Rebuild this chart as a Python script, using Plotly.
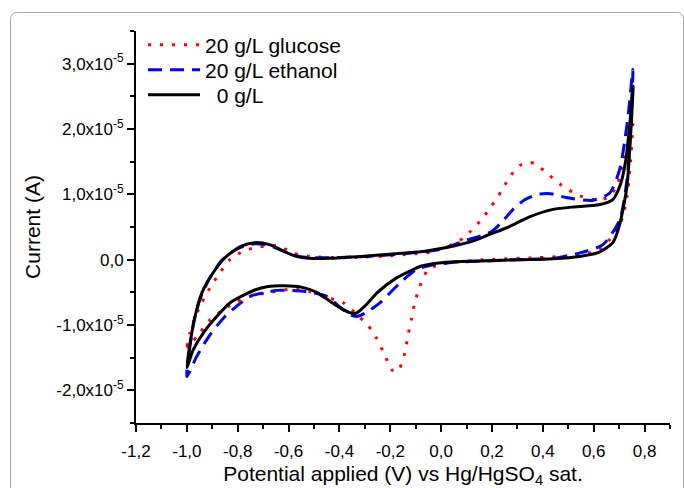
import numpy as np
import plotly.graph_objects as go

# Potential (V) and current (in units of 1e-5 A), one closed CV loop per series
v_glucose = [-1.0, -0.988, -0.968, -0.942, -0.909, -0.870, -0.831, -0.778, -0.713, -0.641, -0.582, -0.516,
             -0.385, -0.30, -0.20, -0.10, -0.058, 0.0, 0.066, 0.112, 0.158, 0.198, 0.237, 0.270, 0.309,
             0.345, 0.368, 0.420, 0.473, 0.532, 0.597, 0.656, 0.689, 0.715, 0.734, 0.748, 0.754,
             0.745, 0.73, 0.705, 0.663, 0.610, 0.507, 0.374, 0.178, 0.073, 0.008, -0.051, -0.084, -0.104,
             -0.117, -0.130, -0.143, -0.163, -0.18, -0.195, -0.222, -0.254, -0.287, -0.326, -0.385, -0.438,
             -0.516, -0.582, -0.673, -0.739, -0.804, -0.857, -0.909, -0.955, -1.0]
i_glucose = [-1.33, -1.12, -0.89, -0.66, -0.43, -0.20, 0.0, 0.13, 0.20, 0.21, 0.10, 0.05,
             0.03, 0.04, 0.06, 0.09, 0.10, 0.17, 0.27, 0.42, 0.61, 0.82, 1.05, 1.27, 1.44,
             1.49, 1.47, 1.31, 1.14, 1.00, 0.92, 0.95, 1.12, 1.43, 1.79, 2.10, 2.18,
             1.50, 0.95, 0.55, 0.31, 0.13, 0.06, 0.03, 0.0, -0.03, -0.06, -0.15, -0.41, -0.66,
             -0.92, -1.15, -1.43, -1.66, -1.72, -1.68, -1.46, -1.20, -1.01, -0.86, -0.66, -0.59,
             -0.49, -0.45, -0.50, -0.55, -0.64, -0.77, -0.92, -1.15, -1.35]

v_ethanol = [-1.0, -0.99, -0.975, -0.95, -0.91, -0.86, -0.80, -0.74, -0.68, -0.62, -0.57, -0.52, -0.44,
             -0.35, -0.25, -0.15, -0.05, 0.0, 0.086, 0.198, 0.24, 0.283, 0.33, 0.381, 0.43, 0.492, 0.597,
             0.663, 0.702, 0.721, 0.738, 0.754,
             0.745, 0.73, 0.702, 0.636, 0.532, 0.44, 0.30, 0.18, 0.05, -0.045, -0.097, -0.163, -0.241,
             -0.30, -0.333, -0.36, -0.40, -0.451, -0.529, -0.60, -0.647, -0.70, -0.752, -0.80, -0.850,
             -0.909, -0.961, -1.0]
i_ethanol = [-1.79, -1.40, -1.00, -0.62, -0.28, 0.0, 0.17, 0.24, 0.22, 0.13, 0.06, 0.03, 0.03,
             0.04, 0.06, 0.09, 0.13, 0.16, 0.28, 0.43, 0.58, 0.77, 0.92, 1.00, 1.01, 0.95, 0.91,
             1.02, 1.38, 1.79, 2.30, 2.91,
             2.00, 1.20, 0.61, 0.23, 0.09, 0.02, 0.0, -0.02, -0.04, -0.09, -0.15, -0.36, -0.66,
             -0.82, -0.87, -0.84, -0.72, -0.56, -0.49, -0.47, -0.47, -0.51, -0.56, -0.70, -0.87,
             -1.15, -1.48, -1.79]

v_blank = [-1.0, -0.985, -0.965, -0.94, -0.90, -0.85, -0.79, -0.735, -0.675, -0.62, -0.57, -0.52, -0.44,
           -0.35, -0.28, -0.18, -0.08, 0.0, 0.05, 0.12, 0.18, 0.27, 0.35, 0.44, 0.53, 0.62, 0.675, 0.705,
           0.725, 0.74, 0.755,
           0.745, 0.73, 0.70, 0.675, 0.62, 0.545, 0.44, 0.31, 0.18, 0.05, -0.01, -0.08, -0.12, -0.18,
           -0.25, -0.30, -0.335, -0.36, -0.40, -0.44, -0.49, -0.55, -0.62, -0.68, -0.73, -0.78, -0.83,
           -0.88, -0.935, -0.975, -1.0]
i_blank = [-1.65, -1.22, -0.82, -0.50, -0.22, 0.03, 0.20, 0.26, 0.23, 0.13, 0.05, 0.02, 0.02,
           0.04, 0.06, 0.09, 0.12, 0.17, 0.21, 0.28, 0.37, 0.51, 0.66, 0.77, 0.81, 0.84, 0.92, 1.15,
           1.50, 2.00, 2.66,
           1.90, 1.10, 0.51, 0.26, 0.11, 0.05, 0.015, 0.0, -0.015, -0.03, -0.05, -0.10, -0.17, -0.29,
           -0.50, -0.71, -0.82, -0.81, -0.73, -0.63, -0.50, -0.42, -0.40, -0.41, -0.46, -0.55, -0.66,
           -0.86, -1.12, -1.38, -1.65]

scale = 1e-5
y_tickvals = [-2e-5, -1e-5, 0.0, 1e-5, 2e-5, 3e-5]
y_ticktext = ["-2,0x10<sup>-5</sup>", "-1,0x10<sup>-5</sup>", "0,0", "1,0x10<sup>-5</sup>",
              "2,0x10<sup>-5</sup>", "3,0x10<sup>-5</sup>"]
x_tickvals = [-1.2, -1.0, -0.8, -0.6, -0.4, -0.2, 0.0, 0.2, 0.4, 0.6, 0.8]
x_ticktext = ["-1,2", "-1,0", "-0,8", "-0,6", "-0,4", "-0,2", "0,0", "0,2", "0,4", "0,6", "0,8"]

FONT = "Arial, 'Liberation Sans', sans-serif"

# plot-area pixel box
L, R, T, B = 136, 670, 31, 423
W, H = R - L, B - T
def px(x):
    return (x - L) / W
def py(y):
    return (B - y) / H

fig = go.Figure()
fig.add_trace(go.Scatter(x=v_glucose, y=np.array(i_glucose) * scale, mode="lines",
                         name="20 g/L glucose", legend="legend",
                         line=dict(color="#ff0000", width=3, dash="3px,9px", shape="spline", smoothing=0.7)))
fig.add_trace(go.Scatter(x=v_ethanol, y=np.array(i_ethanol) * scale, mode="lines",
                         name="20 g/L ethanol", legend="legend2",
                         line=dict(color="#0000ff", width=3, dash="14px,8px", shape="spline", smoothing=0.7)))
fig.add_trace(go.Scatter(x=v_blank, y=np.array(i_blank) * scale, mode="lines",
                         name="  0 g/L", legend="legend3",
                         line=dict(color="#000000", width=3, shape="spline", smoothing=0.7)))

# card border (rounded rectangle), in paper coordinates
x0, x1, y0, y1, r = 10.5, 683.5, 12.5, 500, 7
path = (f"M {px(x0)},{py(y1)} L {px(x0)},{py(y0 + r)} "
        f"Q {px(x0)},{py(y0)} {px(x0 + r)},{py(y0)} "
        f"L {px(x1 - r)},{py(y0)} Q {px(x1)},{py(y0)} {px(x1)},{py(y0 + r)} "
        f"L {px(x1)},{py(y1)}")
fig.add_shape(type="path", path=path, xref="paper", yref="paper",
              line=dict(color="#a8a8a8", width=1), layer="below")

def leg(ycenter):
    return dict(x=px(143), y=py(ycenter), xanchor="left", yanchor="middle", bgcolor="rgba(0,0,0,0)",
                font=dict(size=21, family=FONT), itemwidth=52, borderwidth=0)

fig.update_layout(
    width=684, height=488,
    margin=dict(l=L, r=684 - R, t=T, b=488 - B, autoexpand=False),
    paper_bgcolor="white", plot_bgcolor="white",
    font=dict(family=FONT, color="black"),
    showlegend=True,
    legend=leg(45), legend2=leg(70), legend3=leg(95),
    xaxis=dict(range=[-1.2, 0.9], tickmode="array", tickvals=x_tickvals, ticktext=x_ticktext,
               showgrid=False, zeroline=False, showline=True, linecolor="black", linewidth=2,
               ticks="outside", ticklen=7, tickwidth=2, tickcolor="black", automargin=False,
               tickfont=dict(size=17, family=FONT), ticklabelstandoff=5,
               minor=dict(tickmode="linear", tick0=-1.2, dtick=0.1, ticks="outside", ticklen=4,
                          tickwidth=2, tickcolor="black", showgrid=False),
               title=dict(text="Potential applied (V) vs Hg/HgSO<sub>4</sub> sat.",
                          font=dict(size=21, family=FONT), standoff=10)),
    yaxis=dict(range=[-2.5e-5, 3.5e-5], tickmode="array", tickvals=y_tickvals, ticktext=y_ticktext,
               showgrid=False, zeroline=False, showline=True, linecolor="black", linewidth=2,
               ticks="outside", ticklen=7, tickwidth=2, tickcolor="black", automargin=False,
               tickfont=dict(size=17, family=FONT),
               minor=dict(tickmode="linear", tick0=-2.5e-5, dtick=0.5e-5, ticks="outside", ticklen=4,
                          tickwidth=2, tickcolor="black", showgrid=False),
               title=dict(text="Current (A)", font=dict(size=21, family=FONT), standoff=10)),
)

fig.write_html("out.html")
